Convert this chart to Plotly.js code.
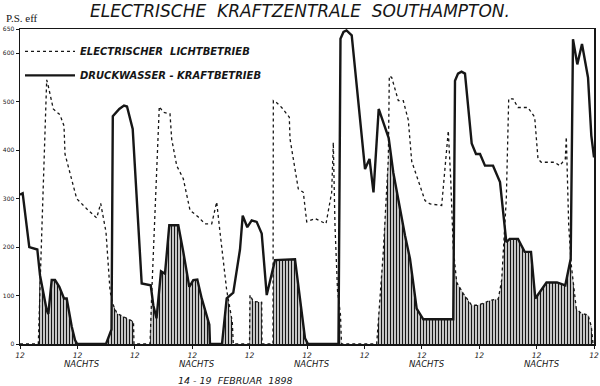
<!DOCTYPE html>
<html>
<head>
<meta charset="utf-8">
<script src="https://cdn.plot.ly/plotly-3.0.1.min.js"></script>
<style>html,body{margin:0;padding:0;background:#fff}#chart{width:600px;height:386px}</style>
</head>
<body>
<div id="chart"></div>
<script>
// Hours after noon, 14 February 1898 (0 = 12 Uhr mittags, 120 = 12 Uhr mittags 19 Feb)
const tickHours = [0, 12, 24, 36, 48, 60, 72, 84, 96, 108, 120];
const tickLabels = ["12", "12", "12", "12", "12", "12", "12", "12", "12", "12", "12"];
const nachtsHours = [12, 36, 60, 84, 108];
const yTicks = [0, 100, 200, 300, 400, 500, 600, 650];
const yTickLabels = ["0", "100", "200", "300", "400", "500", "600", "650"];

// Electrischer Lichtbetrieb (P.S. eff)
const lichtX = [0, 3.83, 4.29, 5.58, 5.85, 6.96, 8.36, 9.2, 9.41, 11.85, 13.94, 16.03, 16.87, 17.98, 18.82, 19.34, 20.28, 23.0, 23.73, 23.83,
  27.18, 27.6, 29.12, 29.96, 31.36, 31.71, 32.76, 34.14, 35.54, 37.28, 38.68, 40.08, 41.12, 41.81, 43.21, 44.38, 44.59,
  47.98, 48.08, 48.77, 50.53, 50.59, 52.89, 52.96, 53.67, 54.71, 56.3, 56.45, 58.18, 59.23, 59.94, 61.67, 63.97, 65.16, 65.5, 65.85, 66.38, 67.0, 67.21,
  74.57, 75.95, 77.0, 77.21, 77.71, 79.09, 80.13, 81.18, 81.89, 84.67, 85.71, 88.16, 89.54, 90.04, 90.58, 91.3, 92.68, 94.43, 95.54, 96.86, 98.26, 100.0,
  100.7, 100.98, 101.67, 102.17, 103.07, 104.11, 106.2, 107.6, 108.29, 108.98, 111.78, 112.83, 114.0, 114.21, 114.71, 115.25, 116.3, 117.35, 118.75, 119.44, 119.8, 120];
const lichtY = [0, 0, 150, 545, 535, 485, 473, 450, 392, 300, 279, 260, 290, 231, 110, 84, 63, 50, 46, 0,
  0, 120, 490, 478, 475, 423, 368, 341, 276, 262, 248, 248, 293, 231, 111, 46, 0,
  0, 101, 88, 86, 0, 0, 502, 498, 488, 468, 423, 320, 313, 252, 259, 248, 313, 416, 245, 110, 60, 0,
  0, 190, 382, 553, 550, 502, 502, 462, 377, 296, 289, 286, 440, 341, 197, 127, 104, 80, 80, 84, 90, 93,
  132, 176, 300, 506, 506, 488, 488, 468, 382, 375, 375, 368, 382, 427, 245, 163, 73, 63, 60, 36, 0, 0];

// Druckwasser-Kraftbetrieb (P.S. eff)
const kraftX = [0, 0.56, 1.94, 3.62, 4.18, 5.58, 5.92, 6.63, 7.32, 8.22, 9.2, 9.76, 10.81, 11.5, 11.98, 17.98, 19.13, 19.4, 20.76, 21.74, 22.37, 23.56,
  25.44, 27.33, 27.87, 28.54, 29.48, 30.31, 31.21, 33.09, 34.14, 35.39, 36.23, 37.07, 37.99, 39.58, 39.72, 42.23, 43.21, 44.59, 45.99, 46.56, 47.52,
  48.44, 49.48, 50.53, 51.58, 53.31, 57.49, 59.58, 60.21, 66.58, 67.0, 67.63, 68.26, 69.35, 72.13, 73.07, 73.9, 74.99, 77.08, 78.04, 80.49, 81.53,
  82.93, 84.31, 90.58, 90.94, 91.57, 92.3, 93.03, 94.43, 95.33, 96.17, 97.21, 98.89, 100.35, 101.67, 102.38, 104.11, 105.51, 106.83, 107.73, 110.07,
  112.27, 114.0, 115.13, 115.61, 116.51, 117.49, 118.75, 119.44, 120];
const kraftY = [308, 311, 200, 195, 142, 70, 62, 132, 132, 118, 94, 94, 36, 8, 0, 0, 30, 470, 485, 492, 490, 444,
  125, 121, 80, 53, 150, 145, 245, 245, 190, 118, 132, 133, 94, 40, 0, 0, 94, 106, 195, 265, 241,
  255, 252, 228, 101, 173, 175, 12, 0, 0, 630, 644, 647, 637, 361, 382, 313, 485, 425, 354, 224, 176,
  73, 51, 51, 543, 558, 562, 558, 414, 392, 392, 368, 368, 334, 210, 217, 217, 190, 190, 94, 127,
  127, 121, 176, 629, 577, 619, 550, 430, 385];

// Gleichzeitiger Betrieb (schraffierte Flaeche)
const gemeinsamX = [0, 3.83, 4.1, 4.18, 5.58, 5.92, 6.63, 7.32, 8.22, 9.2, 9.76, 10.81, 11.5, 11.98,
  17.98, 19.13, 19.36, 20.28, 23.0, 23.73, 23.83,
  27.18, 27.55, 27.87, 28.54, 29.48, 30.31, 31.21, 33.09, 34.14, 35.39, 36.23, 37.07, 37.99, 39.58, 39.72,
  42.23, 43.21, 43.4, 44.38, 44.59, 47.98, 48.08, 48.77, 50.53, 50.59,
  52.89, 52.96, 53.31, 57.49, 59.58, 60.21, 66.58, 66.62, 67.0, 67.21,
  74.57, 75.95, 77.0, 77.06, 78.04, 80.49, 81.53, 82.93, 84.31, 90.58, 90.68, 91.3, 92.68, 94.43, 95.54, 96.86, 98.26, 100.0,
  100.7, 100.98, 101.35, 101.67, 102.38, 104.11, 105.51, 106.83, 107.73, 110.07, 112.27, 114.0, 115.13, 115.25, 116.3, 117.35, 118.75, 119.44, 119.8, 120];
const gemeinsamY = [0, 0, 150, 142, 70, 62, 132, 132, 118, 94, 94, 36, 8, 0,
  0, 30, 84, 63, 50, 46, 0,
  0, 105, 80, 53, 150, 145, 245, 245, 190, 118, 132, 133, 94, 40, 0,
  0, 94, 96, 46, 0, 0, 101, 88, 86, 0,
  0, 158, 173, 175, 12, 0, 0, 65, 60, 0,
  0, 190, 382, 424, 354, 224, 176, 73, 51, 51, 188, 127, 104, 80, 80, 84, 90, 93,
  132, 176, 240, 210, 217, 217, 190, 190, 94, 127, 127, 121, 176, 163, 73, 63, 60, 36, 0, 0];

const ink = '#161616';
const hand = 'DejaVu Sans, sans-serif';

const traces = [
  {
    x: gemeinsamX, y: gemeinsamY, type: 'scatter', mode: 'lines',
    line: {width: 0, color: ink}, fill: 'tozeroy', fillcolor: 'rgba(0,0,0,0)',
    fillpattern: {shape: '|', size: 3, solidity: 0.5, fgcolor: ink, bgcolor: '#ffffff'},
    showlegend: false, hoverinfo: 'skip'
  },
  {
    x: lichtX, y: lichtY, type: 'scatter', mode: 'lines',
    name: 'ELECTRISCHER  LICHTBETRIEB', legendgroup: 'a',
    line: {color: ink, width: 1.3, dash: 'dot'}
  },
  {
    x: kraftX, y: kraftY, type: 'scatter', mode: 'lines',
    name: 'DRUCKWASSER - KRAFTBETRIEB', legendgroup: 'b',
    line: {color: ink, width: 2.4}
  }
];

const annotations = nachtsHours.map(h => ({
  x: h, y: 0, xref: 'x', yref: 'paper', yanchor: 'top', yshift: -13, xshift: 5,
  text: 'NACHTS', showarrow: false,
  font: {family: hand, size: 8.5, color: ink, style: 'italic'}
}));
annotations.push({
  x: 0, y: 1, xref: 'paper', yref: 'paper', xanchor: 'left', yanchor: 'bottom',
  xshift: -16, yshift: 3, text: 'P.S. eff', showarrow: false,
  font: {family: 'Liberation Serif, serif', size: 11, color: ink}
});
annotations.push({
  x: 0.375, y: 0, xref: 'paper', yref: 'paper', xanchor: 'center', yanchor: 'top',
  yshift: -29, text: '14 - 19  FEBRUAR  1898', showarrow: false,
  font: {family: hand, size: 9.5, color: ink, style: 'italic'}
});

const layout = {
  width: 600, height: 386,
  margin: {l: 20, r: 6, t: 29, b: 42},
  paper_bgcolor: '#ffffff', plot_bgcolor: '#ffffff',
  title: {
    text: 'ELECTRISCHE  KRAFTZENTRALE  SOUTHAMPTON.',
    x: 0.5, xanchor: 'center', y: 0.972, yref: 'container', yanchor: 'middle',
    font: {family: hand, size: 17, color: ink, style: 'italic'}
  },
  showlegend: true,
  legend: {
    x: 0.0, y: 0.975, xanchor: 'left', yanchor: 'top',
    bgcolor: 'rgba(0,0,0,0)', borderwidth: 0, tracegroupgap: 5, itemwidth: 50,
    font: {family: hand, size: 10, color: ink, style: 'italic', weight: 'bold'}
  },
  xaxis: {
    range: [0, 120], tickvals: tickHours, ticktext: tickLabels,
    showline: true, mirror: true, linecolor: ink, linewidth: 1.5,
    ticks: 'outside', ticklen: 3, tickcolor: ink,
    tickfont: {family: hand, size: 7.5, color: ink, style: 'italic'},
    showgrid: false, zeroline: false, fixedrange: true
  },
  yaxis: {
    range: [0, 650], tickvals: yTicks, ticktext: yTickLabels,
    showline: true, mirror: true, linecolor: ink, linewidth: 1.5,
    ticks: 'outside', ticklen: 3, tickcolor: ink,
    tickfont: {family: hand, size: 6, color: ink},
    showgrid: false, zeroline: false, fixedrange: true
  },
  annotations: annotations
};

Plotly.newPlot('chart', traces, layout, {staticPlot: true, displayModeBar: false});
</script>
</body>
</html>
